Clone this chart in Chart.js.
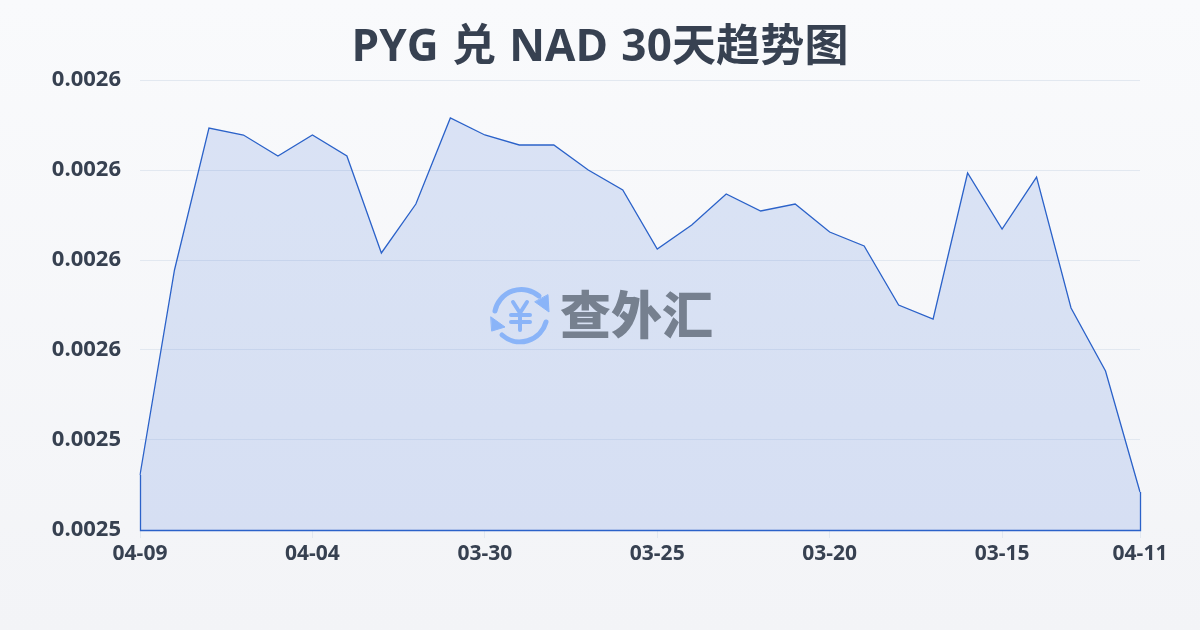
<!DOCTYPE html>
<html>
<head>
<meta charset="utf-8">
<script src="https://cdn.jsdelivr.net/npm/chart.js@4/dist/chart.umd.min.js"></script>
<style>
  html, body { margin: 0; padding: 0; }
  body { width: 1200px; height: 630px; overflow: hidden; position: relative;
         background: linear-gradient(180deg, #f9fafc 0%, #f3f4f7 100%); }
  #wrap { position: absolute; left: 0; top: 0; width: 1200px; height: 630px; }
  #title { position: absolute; left: 0; top: 12px; width: 1200px; margin: 0; text-align: center;
           font: 700 44px/64px "Open Sans", "Noto Sans CJK SC", sans-serif; letter-spacing: 0.15px; word-spacing: 1.5px; color: #374151; white-space: pre; }
  #mark { position: absolute; left: 488px; top: 284px; width: 64px; height: 62px; }
  #markText { position: absolute; left: 560px; top: 276px; font: 900 51px/72px "Noto Sans CJK SC"; color: #76808f; white-space: nowrap; }
</style>
</head>
<body>
<div id="wrap"><canvas id="rate-chart" width="1200" height="630"></canvas></div>
<h1 id="title"></h1>
<svg id="mark" viewBox="488 284 64 62" fill="none" stroke="#8ab4f8" stroke-linecap="round" stroke-linejoin="round">
  <path d="M495 311 A27 27 0 0 1 539 296" stroke-width="5"/>
  <path d="M546 322 A27 27 0 0 1 502 335" stroke-width="5"/>
  <path d="M548 295 L549 312 L535 302 Z" fill="#8ab4f8" stroke-width="1"/>
  <path d="M491 317 L505 327 L492 331 Z" fill="#8ab4f8" stroke-width="1"/>
  <path d="M513 302 L520 313 L527 302 M511 315 H530 M511 322 H530 M520 313 V330" stroke-width="4"/>
</svg>
<div id="markText">查外汇</div>
<script>
const titleText = "PYG 兑 NAD 30天趋势图";
const dates = ["04-09","04-08","04-07","04-06","04-05","04-04","04-03","04-02","04-01","03-31",
  "03-30","03-29","03-28","03-27","03-26","03-25","03-24","03-23","03-22","03-21",
  "03-20","03-19","03-18","03-17","03-16","03-15","03-14","03-13","03-12","04-11"];
const rates = [0.00253222,0.00257778,0.00260933,0.00260778,0.00260311,0.00260778,0.00260311,0.00258156,0.00259244,0.00261156,
  0.00260778,0.00260556,0.00260556,0.00260000,0.00259556,0.00258244,0.00258778,0.00259467,0.00259089,0.00259244,
  0.00258622,0.00258311,0.00257000,0.00256689,0.00259933,0.00258689,0.00259844,0.00256933,0.00255533,0.00252844];
const yMin = 0.00252;
const yMax = 0.00262;
const yStep = 0.00002;

const fontFamily = '"Open Sans", "Noto Sans CJK SC", sans-serif';

document.getElementById('title').textContent = titleText;

function showsLabel(index) {
  return index % 5 === 0 || index === dates.length - 1;
}

// the original strokes the whole area shape, so close it down the sides and along the bottom
const closeAreaPlugin = {
  id: 'closeArea',
  afterDatasetsDraw(chart) {
    const ctx = chart.ctx;
    const pts = chart.getDatasetMeta(0).data;
    const last = pts[pts.length - 1];
    // half pixel offset keeps these straight edges crisp
    const left = Math.round(pts[0].x) + 0.5;
    const right = Math.round(last.x) + 0.5;
    const bottom = Math.round(chart.scales.y.bottom) + 0.5;
    ctx.save();
    ctx.beginPath();
    ctx.moveTo(left, pts[0].y);
    ctx.lineTo(left, bottom);
    ctx.lineTo(right, bottom);
    ctx.lineTo(right, last.y);
    ctx.lineWidth = 1.3;
    ctx.strokeStyle = '#2b62c9';
    ctx.stroke();
    ctx.restore();
  }
};

new Chart(document.getElementById('rate-chart'), {
  type: 'line',
  data: {
    labels: dates,
    datasets: [{
      data: rates,
      borderColor: '#2b62c9',
      borderWidth: 1.3,
      backgroundColor: 'rgba(37, 90, 215, 0.14)',
      fill: 'origin',
      tension: 0,
      pointRadius: 0
    }]
  },
  options: {
    responsive: false,
    animation: false,
    layout: { padding: { left: 0, right: 60, top: 80, bottom: 0 } },
    plugins: {
      legend: { display: false },
      tooltip: { enabled: false }
    },
    scales: {
      x: {
        afterFit(scale) { scale.height = 100; },
        grid: {
          drawOnChartArea: false,
          tickLength: 8,
          tickColor: ctx => showsLabel(ctx.index) ? '#e2e8f0' : 'transparent'
        },
        border: { display: false },
        ticks: {
          autoSkip: false,
          maxRotation: 0,
          padding: 3,
          color: '#374151',
          font: { family: fontFamily, size: 21, weight: 'bold' },
          callback(value, index) {
            return showsLabel(index) ? dates[index] : '';
          }
        }
      },
      y: {
        min: yMin,
        max: yMax,
        afterFit(scale) { scale.width = 140; },
        grid: { drawTicks: false, color: '#e2e8f0' },
        border: { display: false },
        ticks: {
          stepSize: yStep,
          padding: 19,
          color: '#374151',
          font: { family: fontFamily, size: 22, weight: 'bold' },
          callback: value => value.toFixed(4)
        }
      }
    }
  },
  plugins: [closeAreaPlugin]
});
</script>
</body>
</html>
